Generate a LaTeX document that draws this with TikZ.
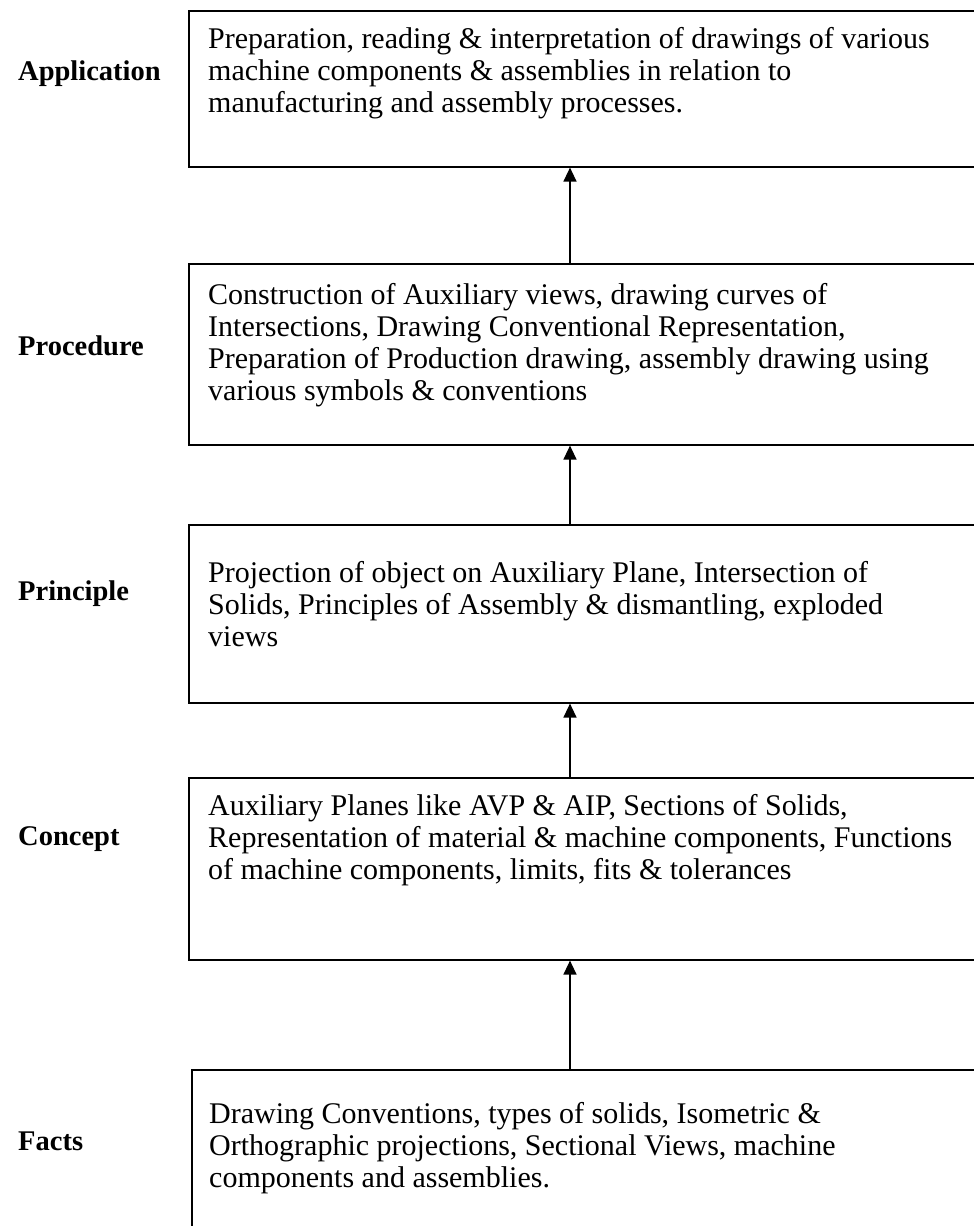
\documentclass[tikz,border=0pt]{standalone}
\usepackage{fontspec}
\setmainfont{Liberation Serif}
\usetikzlibrary{arrows.meta, positioning}

\tikzset{
	stagebox/.style = {draw, line width = 1.6pt, minimum width = 820pt, minimum height = #1, anchor = north west, inner sep = 0pt},
	stagetext/.style = {inner sep = 0pt, align = left, font = \fontsize{30}{32}\selectfont},
	stagename/.style = {anchor = base west, inner sep = 0pt, font = \fontsize{28.5}{32}\selectfont\bfseries},
	upward/.style = {-{Triangle[length = 14pt, width = 13pt]}, line width = 1.4pt}
}

\begin{document}
\begin{tikzpicture}[x = 1pt, y = -1pt]
	\def\bx{188};
	\def\lx{18};
	
	\path[use as bounding box, clip] (0,0) rectangle (974,1226);
	\coordinate (ax) at (570,0);
	
	\node[stagebox = 156pt] (app) at (\bx,10) {};
	\node[stagebox = 181pt] (proc) at (\bx,263) {};
	\node[stagebox = 178pt] (princ) at (\bx,524) {};
	\node[stagebox = 182pt] (conc) at (\bx,777) {};
	\node[stagebox = 180pt] (facts) at (191,1069) {};
	
	\node[stagetext, below right = 17pt and 20pt of app.north west] (appTxt) {Preparation, reading \& interpretation of drawings of various\\machine components \& assemblies in relation to\\manufacturing and assembly processes.};
	\node[stagetext, below right = 20pt and 20pt of proc.north west] (procTxt) {Construction of Auxiliary views, drawing curves of\\Intersections, Drawing Conventional Representation,\\Preparation of Production drawing, assembly drawing using\\various symbols \& conventions};
	\node[stagetext, below right = 37pt and 20pt of princ.north west] (princTxt) {Projection of object on Auxiliary Plane, Intersection of\\Solids, Principles of Assembly \& dismantling, exploded\\views};
	\node[stagetext, below right = 17pt and 20pt of conc.north west] (concTxt) {Auxiliary Planes like AVP \& AIP, Sections of Solids,\\Representation of material \& machine components, Functions\\of machine components, limits, fits \& tolerances};
	\node[stagetext, below right = 33pt and 18pt of facts.north west] (factsTxt) {Drawing Conventions, types of solids, Isometric \&\\Orthographic projections, Sectional Views, machine\\components and assemblies.};
	
	\node[stagename] (appLbl) at (\lx,80) {Application};
	\node[stagename] (procLbl) at (\lx,355) {Procedure};
	\node[stagename] (princLbl) at (\lx,600) {Principle};
	\node[stagename] (concLbl) at (\lx,845) {Concept};
	\node[stagename] (factsLbl) at (\lx,1150) {Facts};
	
	\draw[upward] (proc.north -| ax) -- (app.south -| ax);
	\draw[upward] (princ.north -| ax) -- (proc.south -| ax);
	\draw[upward] (conc.north -| ax) -- (princ.south -| ax);
	\draw[upward] (facts.north -| ax) -- (conc.south -| ax);
\end{tikzpicture}
\end{document}
